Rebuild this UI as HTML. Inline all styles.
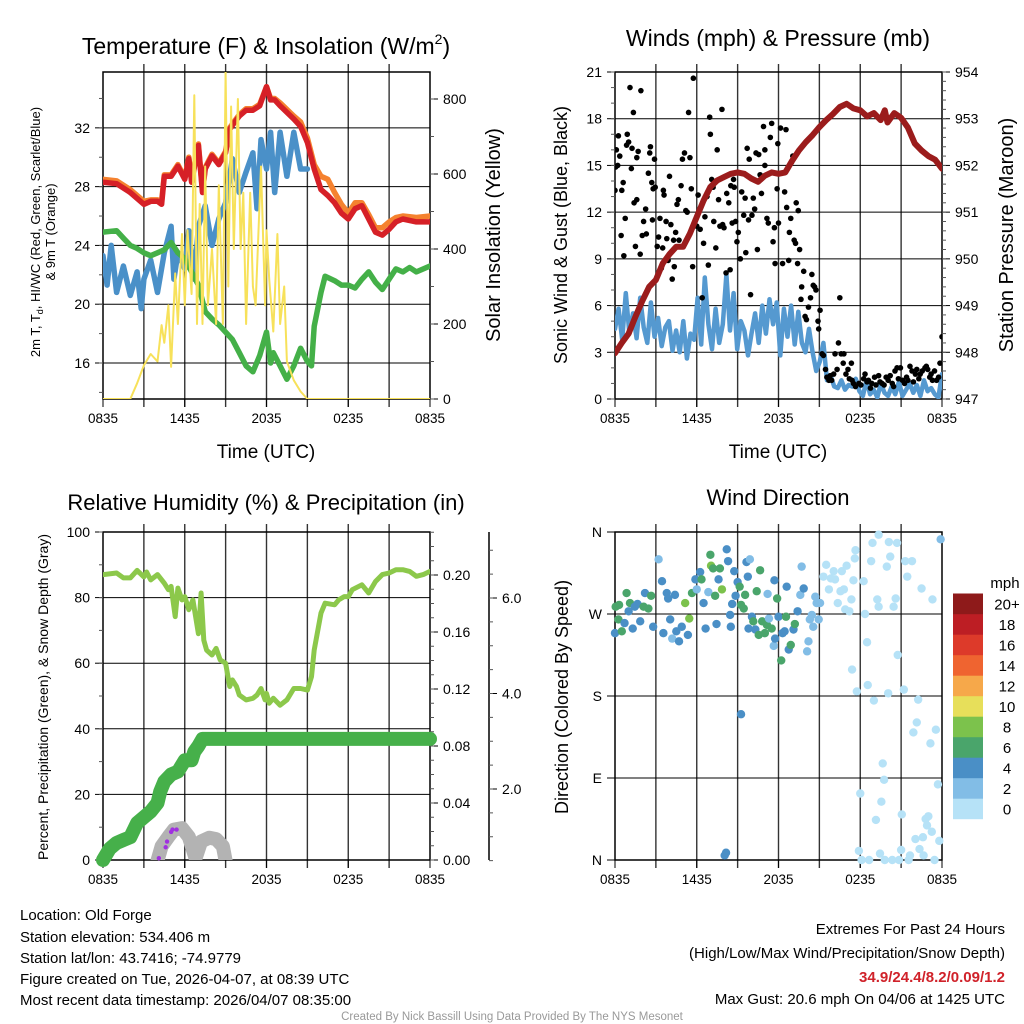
<!DOCTYPE html>
<html><head><meta charset="utf-8"><style>
body{margin:0;background:#fff}
svg{display:block;font-family:"Liberation Sans",sans-serif}
</style></head><body>
<svg id="root" width="1024" height="1024" viewBox="0 0 1024 1024">
<rect width="1024" height="1024" fill="#fff"/>
<g id="g1"></g>
<g id="g2"></g>
<g id="g3"></g>
<g id="g4"></g>
<g font-size="15" fill="#000">
<text x="20" y="920">Location: Old Forge</text>
<text x="20" y="942">Station elevation: 534.406 m</text>
<text x="20" y="963">Station lat/lon: 43.7416; -74.9779</text>
<text x="20" y="984">Figure created on Tue, 2026-04-07, at 08:39 UTC</text>
<text x="20" y="1005">Most recent data timestamp: 2026/04/07 08:35:00</text>
</g>
<g font-size="15" text-anchor="end">
<text x="1005" y="934">Extremes For Past 24 Hours</text>
<text x="1005" y="958">(High/Low/Max Wind/Precipitation/Snow Depth)</text>
<text x="1005" y="982" fill="#d0222a" font-weight="bold">34.9/24.4/8.2/0.09/1.2</text>
<text x="1005" y="1004">Max Gust: 20.6 mph On 04/06 at 1425 UTC</text>
</g>
<text x="512" y="1020" font-size="11.5" fill="#999" text-anchor="middle">Created By Nick Bassill Using Data Provided By The NYS Mesonet</text>
</svg>
<script>
// ---------- data ----------
const timeTicks=["0835","1435","2035","0235","0835"];
const tempHours=[0,1,2,3,3.5,4,4.3,4.5,5,5.5,6,6.3,6.5,7,7.3,7.5,8,8.5,9,9.3,9.6,10,10.5,11,11.5,12,12.3,12.6,13,14,14.5,15,15.5,16,16.5,17,17.5,18,18.5,19,19.5,20,20.5,21,21.5,22,23,24];
const tempRed=[28.3,28.2,27.6,26.8,27,27,26.8,28.7,28.7,29.4,28.5,29.9,28.3,30.8,27.6,29.2,30.1,29.5,30.3,31.9,32.3,32.8,33.2,33.2,33.5,34.8,33.9,33.9,33.5,32.6,32.1,31,29.2,27.8,27.4,26.9,26.2,25.8,26.5,26.7,25.8,24.9,24.7,25.1,25.6,25.8,25.6,25.6];
const tempOrange=[28.5,28.4,27.8,27,27.1,27.1,27,28.8,28.8,29.5,28.6,30,28.4,30.9,27.7,29.3,30.2,29.6,30.4,32,32.4,32.9,33.3,33.3,33.6,34.8,34,34,33.7,32.8,32.4,31.3,29.5,28.7,28.5,27.6,26.8,26.2,26.9,26.9,26.1,25.2,25.2,25.6,25.9,26,25.9,26];
const hiHours=[0,0.3,0.6,1,1.5,2,2.5,2.8,3,3.5,4,4.5,5,5.2,5.5,6,6.3,6.7,7,7.5,8,8.5,9,9.5,10,10.5,11,11.3,11.6,12,12.3,12.6,13,13.5,14,14.5,15];
const hiValues=[23.3,21.3,24,20.8,22.6,20.6,22.2,19.7,21.7,23,20.8,23.5,25.3,21.7,23.5,22.4,25,21.7,25.3,26.7,24,25.8,26.9,29.9,27.6,29,30.3,26.5,31.2,29.2,31.7,27.6,31.7,28.7,31.7,29.2,29.2];
const dewHours=[0,1,1.5,2,2.5,3,3.5,4,4.5,5,5.5,6,6.5,7,7.5,8,8.5,9,9.5,10,10.5,11,11.5,12,12.3,12.5,13,13.5,14,14.5,15,15.3,15.5,16,16.3,17,17.5,18,18.5,19,19.5,20,20.5,21,21.5,22,22.5,23,24];
const dewValues=[24.9,25,24.5,24,23.8,23.5,23.3,23.5,23.7,24.2,23.5,23.1,22.2,21.3,19.5,19,18.6,18.1,17.6,16.7,15.8,15.4,16.5,18.1,16,16.7,15.8,14.9,15.8,17,16.1,15.8,18.5,20.8,21.9,21.6,21.3,21.3,21.1,21.7,22.2,21.5,21,21.7,22.4,22.2,22.5,22.2,22.6];
const solarHours=[0,2,2.5,3,3.5,4,4.3,4.5,4.8,5,5.3,5.5,5.8,6,6.2,6.5,6.7,6.9,7.1,7.3,7.5,7.7,8,8.3,8.5,8.8,9,9.2,9.4,9.6,9.9,10.1,10.3,10.5,10.8,11,11.2,11.6,11.9,12,12.2,12.5,12.8,13,13.3,13.5,14,14.5,15,24];
const solarValues=[0,0,42,90,120,100,197,150,250,86,335,200,440,250,450,280,810,200,520,200,620,250,400,200,570,200,873,300,780,400,800,400,550,200,550,300,250,620,250,450,320,180,440,200,300,100,50,20,0,0];
// panel 2
const presHours=[0,0.5,1,1.5,2,2.5,3,3.5,4,4.5,5,5.5,6,6.5,7,7.5,8,8.5,9,9.5,10,10.5,11,11.5,12,12.5,13,13.5,14,14.5,15,15.5,16,16.5,17,17.5,18,18.5,19,19.5,19.8,20,20.5,21,21.5,22,22.5,23,23.5,24];
const presValues=[947.98,948.2,948.4,948.76,949.1,949.4,949.55,949.9,950.1,950.26,950.26,950.54,950.9,951.25,951.54,951.68,951.75,951.82,951.85,951.82,951.72,951.65,951.78,951.85,951.82,951.85,952.1,952.32,952.5,952.65,952.82,952.97,953.1,953.25,953.32,953.22,953.18,953.05,953.12,952.97,953.18,952.92,953.12,953.02,952.81,952.47,952.32,952.2,952.12,951.93];
const windValues=[4.5,5.8,3.8,6.8,4.2,5.5,3.9,6.5,4.6,3.6,6.2,4.0,5.2,3.4,4.6,5.0,3.1,4.4,3.0,5.0,2.6,4.2,3.8,6.5,3.5,7.8,4.8,3.2,5.8,3.6,4.8,8.0,4.4,6.8,3.2,5.0,4.4,2.8,4.2,5.5,3.6,6.0,4.2,6.4,4.8,6.2,2.8,5.8,4.0,6.0,3.5,5.6,3.6,3.0,4.5,3.0,1.8,2.4,3.6,1.2,1.5,0.8,0.7,1.2,0.6,0.9,0.8,1.3,0.5,0.2,1.2,0.3,0.6,0.1,1.0,0.4,0.2,0.8,0.3,1.1,0.2,0.6,1.0,0.4,0.9,0.2,1.2,0.5,0.7,0.3,0.1,1.6];
const gustHours=[0,0.05,0.1,0.25,0.2,0.35,0.5,0.6,0.45,0.65,0.75,0.85,0.9,1,1.1,1.2,1.25,1.35,1.4,1.5,1.6,1.7,1.6,1.85,1.9,2,2.1,2.25,2.3,2.45,2.55,2.6,2.7,2.8,2.9,2.95,2.75,3.1,3.2,3.3,3.4,3.5,3.55,3.6,3.75,3.8,3.9,4,4.1,4.2,4.3,4.35,4.45,4.55,4.65,4.7,4.85,4.95,5.1,5.2,5.3,5.4,5.5,5.6,5.7,5.75,5.85,5.9,6,6.1,6.25,6.4,6.5,6.6,6.75,6.85,6.95,7,7.1,7.2,7.25,7.4,7.5,7.6,7.7,7.85,7.9,8,8.15,8.2,8.35,8.45,8.5,8.6,8.7,8.75,8.85,8.95,9.05,9.2,9.3,9.45,9.55,9.6,9.7,9.8,9.85,9.95,10.05,10.15,10.25,10.35,10.45,10.55,10.65,10.75,10.9,11,11,11.15,11.25,11.4,11.5,11.6,11.7,11.75,11.9,11.95,12,12.15,12.3,12.45,12.55,12.6,12.75,12.8,12.9,12.95,13.05,13.15,13.25,13.3,13.4,13.45,13.55,13.65,13.7,13.85,13.95,14.05,14.2,14.35,14.45,14.55,14.65,14.75,14.9,14.95,15.05,15.2,15.3,15.45,15.55,15.7,15.8,15.9,16.05,16.15,16.3,16.4,16.5,16.6,16.75,16.8,16.95,17.1,17.2,17.35,17.4,17.5,17.65,17.9,18.05,18.25,18.35,18.5,18.6,18.75,18.85,19.05,19.15,19.35,19.45,19.6,19.75,19.9,20.05,20.2,20.35,20.45,20.55,20.7,20.8,20.95,21.1,21.25,21.4,21.5,21.65,21.8,21.9,22.05,22.15,22.3,22.4,22.55,22.75,22.85,22.95,23.1,23.2,23.3,23.45,23.6,23.75,23.85,24];
const gustValues=[13.4,14.9,16,16.9,15,15.6,13.4,13.9,10.5,9.2,11.6,16.3,17,16.5,20,14.8,16.1,18.4,12.6,9.8,12.8,15.9,15.5,9.3,19.8,10.5,11.4,12.2,10.6,14.5,15.8,16.2,13.9,13.5,15.4,13.6,11.5,9.8,10.4,11.6,8.4,9.7,13.4,13.1,11.4,10.3,8.9,14.3,11.2,7.7,10.2,8.5,10.7,12.5,12.8,10.2,13.7,15.4,15.8,12.1,12,18.4,15.5,13.5,8.5,20.6,11.2,11.5,11.1,13.1,10.9,6.5,10,11.7,13,8.6,18.1,17,14.1,13.6,11.4,9.7,16,12.8,11.1,18.6,11.2,11,8.1,13.2,12.6,8.3,13.7,11.3,14.1,13.6,11.4,10.1,10.7,9,13.3,11.8,12.9,9.4,16.1,11.5,15.4,6.7,11.8,12.9,12.2,15.8,9.6,15.7,14.4,13.2,17.5,15,16,11.6,11.3,16.8,17.7,10.1,11,8.7,13.5,16.4,11.3,17.4,8.7,13.3,17.3,12.3,8.9,10.7,11.6,15.2,15.6,10.2,10,12.6,8.7,12.1,9.6,6.4,7.2,8.2,5.3,5.1,5.9,6.5,8,7.3,7.2,7,5,4.5,5.7,2.9,2.8,1.9,1.4,1.2,1.5,1.2,1.6,2.9,1.9,3.6,6.5,2.9,2.3,2.9,1.6,1.9,1.3,2.3,1.2,1,0.8,1,0.9,1.3,1.6,1.1,1.2,0.7,1,1.4,0.9,1.5,1.1,1,0.9,1.4,1.2,1.5,1,0.8,1.8,2,1.3,2,1.2,1,1.4,1.2,2.1,1.8,1.1,1.6,1.9,1.3,1.6,1.8,2,2.1,1.9,1.4,1.6,1.2,1.8,1.2,1.4,2.3,4];
// panel 3
const rhHours=[0,1,1.5,2,2.5,3,3.2,3.5,4,4.5,4.8,5,5.3,5.5,5.8,6,6.3,6.6,7,7.2,7.4,7.6,8,8.3,8.6,9,9.3,9.5,9.8,10,10.5,11,11.3,11.6,11.9,12,12.2,12.5,13,13.5,14,14.5,15,15.3,15.5,16,16.3,17,17.3,17.7,18,18.3,19,19.5,20,20.5,21,21.5,22,22.5,23,23.5,24];
const rhValues=[87,87.5,86,86,88.3,86.3,87.8,85.4,87,84.4,82.4,83.4,74.2,82.9,79.3,80.3,76.3,79.3,69,81.4,67,64,62.5,64.5,61,60,52.9,54.9,52.9,50.3,48.8,49.3,50.3,52.3,48.8,50.8,47.8,49.3,47.2,48.8,52.3,52.3,51.8,55.9,64,75.3,78.3,77.8,79.3,80.3,80.3,82.4,83.9,81.4,84.9,87,87.5,88.5,88.5,88,86.5,87,88];
const precipHours=[0,0.5,1,1.5,2,2.5,3,3.5,4,4.2,4.5,5,5.5,6,6.5,6.7,7,7.3,7.6,24];
const precipValues=[0,0.008,0.012,0.014,0.016,0.026,0.03,0.034,0.04,0.048,0.055,0.06,0.062,0.07,0.07,0.076,0.08,0.085,0.085,0.085];
const snowHours=[4,4.3,4.8,5.2,5.8,6.3,6.8,7.2,7.8,8.3,8.8,9];
const snowValues=[0.5,0.8,1.0,1.15,1.18,1.0,0.55,0.9,0.98,0.95,0.8,0.5];
const snowfallHours=[4.1,4.6,4.7,5,5.1,5.4];
const snowfallValues=[0.55,0.78,0.9,1.1,1.15,1.15];
// panel 4
const dirHours=[0,0.05,0.3,0.25,0.5,0.7,0.85,1,1.1,1.3,1.45,1.65,1.85,2.1,2.2,2.45,2.65,2.8,3.2,3.45,3.55,3.8,3.9,4.05,4.2,4.4,4.5,4.7,4.9,5.15,5.35,5.45,5.65,5.9,6,6.25,6.35,6.5,6.65,6.85,7,7.05,7.2,7.35,7.45,7.6,7.7,7.85,8.2,8.3,8.45,8.5,8.6,8.75,8.85,9,9.15,9.25,9.25,9.45,9.55,9.65,9.75,9.8,9.9,10.05,10.15,10.3,10.4,10.55,10.65,10.8,11,11.15,11.2,11.3,11.5,11.65,11.7,11.75,11.9,12,12.2,12.3,12.45,12.55,12.6,12.75,12.9,13.1,13.2,13.4,13.6,13.7,13.85,14.1,14.2,14.3,14.45,14.55,14.7,14.8,14.95,15.05,8.05,8.15,
15.3,15.5,15.7,15.85,16.05,16.15,16.35,16.55,16.65,16.8,16.9,17,17.2,17.35,17.5,17.65,17.6,17.75,17.9,18,18.1,18.25,18.35,18.5,18.55,18.65,18.8,18.9,19,19.15,19.25,19.35,19.35,19.45,19.55,19.65,19.75,19.8,19.95,20.05,20.1,20.2,20.35,20.45,20.6,20.7,20.75,20.85,21,21.05,21.2,21.3,21.45,21.55,21.65,21.8,21.9,22.05,22.15,22.25,22.35,22.5,22.6,22.65,22.8,22.9,23,23.15,23.25,23.3,23.45,23.55,23.7,23.8,23.9,17.4];
const dirDegrees=[249,278,280,264,251,260,293,273,282,254,278,281,262,278,293,276,290,256,330,306,249,293,287,264,243,291,251,240,256,282,247,265,293,308,297,316,308,282,254,294,335,323,320,290,259,308,320,297,341,328,269,256,281,317,290,305,300,280,160,276,291,327,311,254,330,267,262,253,295,247,318,262,249,258,292,265,254,235,307,243,287,267,219,249,251,267,300,231,236,253,259,273,291,322,298,229,240,264,269,256,289,282,264,282,5,8,
311,324,297,309,317,308,282,295,317,297,275,323,273,286,307,340,331,185,10,73,0,306,270,239,192,0,328,348,175,44,286,357,278,7,64,106,88,0,322,183,349,333,0,278,287,348,225,0,11,50,187,328,311,0,5,328,140,23,151,176,12,298,25,5,45,38,48,128,31,286,0,143,83,21,352,209];
const dirSpeeds=[5,7,7,7,7,5,7,5,7,5,5,5,5,7,5,7,7,5,3,5,5,5,5,5,3,5,5,5,5,9,5,9,7,5,3,5,7,5,5,3,7,9,7,7,5,5,7,9,5,5,5,5,5,5,5,5,7,7,5,7,7,5,5,5,3,5,7,5,7,7,7,7,7,7,3,3,7,3,5,5,7,5,7,5,5,7,5,5,7,5,7,5,3,3,5,3,3,3,3,3,3,3,3,3,5,5,
1,1,1,1,1,1,1,1,1,1,1,1,1,1,1,1,1,1,1,1,1,1,1,1,1,1,1,1,1,1,1,1,1,1,1,1,1,1,1,1,1,1,1,1,1,1,1,1,1,1,1,1,1,1,1,1,1,1,1,1,1,1,1,1,1,1,1,1,1,1,1,1,1,1,3,1];
const speedColors=["#b6e2f7","#82bde6","#4a8fc6","#4aa56b","#7cc24c","#e7df5a","#f6a84a","#ef6430","#dd3a2a","#bd1e24","#8e1a1a"];
const speedLabels=["0","2","4","6","8","10","12","14","16","18","20+"];
const leftTicks1=[16,20,24,28,32], rightTicks1=[0,200,400,600,800];
const leftTicks2=[0,3,6,9,12,15,18,21], rightTicks2=[947,948,949,950,951,952,953,954];
const leftTicks3=[0,20,40,60,80,100], rightTicks3=[0,0.04,0.08,0.12,0.16,0.2], snowTicks=[2,4,6];
const dirTicks=[0,90,180,270,360], dirLabels=["N","E","S","W","N"];

// ---------- helpers ----------
const NS="http://www.w3.org/2000/svg";
function mk(parent,tag,attrs){const e=document.createElementNS(NS,tag);for(const k in attrs)e.setAttribute(k,attrs[k]);parent.appendChild(e);return e;}
function txt(parent,x,y,s,size,anchor,extra){const t=mk(parent,"text",Object.assign({x:x,y:y,"font-size":size,"text-anchor":anchor||"middle"},extra||{}));t.textContent=s;return t;}
function path(xs,ys,xf,yf){return xs.map((h,i)=>(i?"L":"M")+xf(h).toFixed(1)+" "+yf(ys[i]).toFixed(1)).join("");}
function frame(g,X0,Y0,Y1,id){
  for(let h=3;h<24;h+=3){const l=mk(g,"line",{x1:X0+h*327/24,x2:X0+h*327/24,y1:Y0-8,y2:Y1+8,stroke:"#333","stroke-width":1.4});
  
  }
  const r=mk(g,"rect",{x:X0,y:Y0,width:327,height:Y1-Y0,fill:"none",stroke:"#000","stroke-width":1.5});
  
  
  timeTicks.forEach((s,i)=>{const x=X0+i*6*327/24;mk(g,"line",{x1:x,x2:x,y1:Y1,y2:Y1+8,stroke:"#000"});
    const t=txt(g,x,Y1+24,s,13.5);
    
    });
  const c=mk(g,"clipPath",{id:id});mk(c,"rect",{x:X0,y:Y0,width:327,height:Y1-Y0});
}
function yAxis(g,ticks,labels,yf,x,side,grid,X0,fmt,minorStep,lo,hi){
  ticks.forEach((v,i)=>{const y=yf(v);
    if(grid){const gl=mk(g,"line",{x1:X0,x2:X0+327,y1:y,y2:y,stroke:"#000","stroke-width":1});
      
      }
    mk(g,"line",{x1:x,x2:x+side*8,y1:y,y2:y,stroke:"#000"});
    const t=txt(g,x+side*13,y+5,labels?labels[i]:fmt(v),14,side<0?"end":"start");
    
    });
  if(minorStep){for(let v=lo;v<=hi+1e-9;v+=minorStep){const y=yf(v);mk(g,"line",{x1:x,x2:x+side*4,y1:y,y2:y,stroke:"#555"});}}
}
function rot(g,x,y,s,size){const t=mk(g,"text",{transform:"translate("+x+","+y+") rotate(-90)","font-size":size,"text-anchor":"middle"});t.textContent=s;return t;}
function line(g,d,color,w,clip,name){const p=mk(g,"path",{d:d,fill:"none",stroke:color,"stroke-width":w,"stroke-linejoin":"round","stroke-linecap":"round","clip-path":"url(#"+clip+")"});
  
  return p;}

// ---------- panel 1 ----------
const g1=document.getElementById("g1");
const x1=h=>103+h*327/24, yT=t=>399-(t-13.55)*327/22.25, yS=w=>399-w*300/800;
frame(g1,103,72,399,"c1");
yAxis(g1,leftTicks1,null,yT,103,-1,true,103,v=>v,2,14,34);
yAxis(g1,rightTicks1,null,yS,430,1,false,103,v=>v,100,0,800);
line(g1,path(tempHours,tempOrange,x1,yT),"#f5822f",5.5,"c1","orange-9m-temp-line");
line(g1,path(tempHours,tempRed,x1,yT),"#d62027",5.5,"c1","red-2m-temp-line");
line(g1,path(hiHours,hiValues,x1,yT),"#4a90c8",5.5,"c1","blue-heat-index-line");
line(g1,path(dewHours,dewValues,x1,yT),"#44b048",5.5,"c1","green-dewpoint-line");
line(g1,path(solarHours,solarValues,x1,yS),"#f7e15a",2,"c1","yellow-insolation-line");
txt(g1,266,54,"",23).innerHTML='Temperature (F) &amp; Insolation (W/m<tspan font-size="14" dy="-10">2</tspan><tspan dy="10">)</tspan>';
txt(g1,266,458,"Time (UTC)",19);
const yl=mk(g1,"text",{transform:"translate(40,232) rotate(-90)","font-size":13,"text-anchor":"middle"});


yl.innerHTML='<tspan x="0" dy="0">2m T, T<tspan font-size="9" dy="3">d</tspan><tspan dy="-3">, HI/WC (Red, Green, Scarlet/Blue)</tspan></tspan><tspan x="0" dy="15">&amp; 9m T (Orange)</tspan>';
rot(g1,500,235,"Solar Insolation (Yellow)",20);

// ---------- panel 2 ----------
const g2=document.getElementById("g2");
const x2=h=>615+h*327/24, yW=m=>399-m*327/21, yP=p=>399-(p-947)*327/7;
frame(g2,615,72,399,"c2");
yAxis(g2,leftTicks2,null,yW,615,-1,true,615,v=>v,1,0,21);
yAxis(g2,rightTicks2,null,yP,942,1,false,615,v=>v,0.2,947,954);
line(g2,path(windValues.map((v,i)=>i*24/(windValues.length-1)),windValues,x2,yW),"#5599d0",4.5,"c2","blue-sonic-wind-line");
const gg=mk(g2,"g",{"clip-path":"url(#c2)"});
gustHours.forEach((h,i)=>{const c=mk(gg,"circle",{cx:x2(h),cy:yW(gustValues[i]),r:2.8,fill:"#000"});
  
  });
line(g2,path(presHours,presValues,x2,yP),"#9b1c1c",6,"c2","maroon-pressure-line");
txt(g2,778,46,"Winds (mph) & Pressure (mb)",23);
txt(g2,778,458,"Time (UTC)",19);
rot(g2,567,235,"Sonic Wind & Gust (Blue, Black)",18);
rot(g2,1013,235,"Station Pressure (Maroon)",20);

// ---------- panel 3 ----------
const g3=document.getElementById("g3");
const yR=v=>860-v*328/100, yPr=v=>860-v*1425, ySn=d=>884.5-d*47.75;
frame(g3,103,532,860,"c3");
yAxis(g3,leftTicks3,null,yR,103,-1,true,103,v=>v,10,0,100);
yAxis(g3,rightTicks3,null,yPr,430,1,false,103,v=>v.toFixed(2),0.01,0,0.23);
mk(g3,"line",{x1:489,x2:489,y1:532,y2:860,stroke:"#000","stroke-width":1.5});
yAxis(g3,snowTicks,null,ySn,489,1,false,103,v=>v.toFixed(1),0.5,0.5,7);
line(g3,path(snowHours,snowValues,x1,ySn),"#b3b3b3",14,"c3","gray-snow-depth-line");
const sg=mk(g3,"g",{});
snowfallHours.forEach((h,i)=>{const c=mk(sg,"circle",{cx:x1(h),cy:ySn(snowfallValues[i]),r:2.2,fill:"#a030e0"});
  
  });
line(g3,path(rhHours,rhValues,x1,yR),"#8cc84b",5,"c3","rh-line");
mk(g3,"path",{d:path(precipHours,precipValues,x1,yPr),fill:"none",stroke:"#46b04a","stroke-width":14,"stroke-linejoin":"round","stroke-linecap":"round"});
txt(g3,266,510,"Relative Humidity (%) & Precipitation (in)",22);
rot(g3,48,697,"Percent, Precipitation (Green), & Snow Depth (Gray)",14);

// ---------- panel 4 ----------
const g4=document.getElementById("g4");
const yD=d=>860-d*328/360;
frame(g4,615,532,860,"c4");
yAxis(g4,dirTicks,dirLabels,yD,615,-1,true,615,null,0,0,0);
const dg=mk(g4,"g",{});
dirHours.forEach((h,i)=>{const b=Math.min(10,Math.floor(dirSpeeds[i]/2));
  const c=mk(dg,"circle",{cx:x2(h),cy:yD(dirDegrees[i]),r:4.2,fill:speedColors[b]});
  
  });
txt(g4,778,505,"Wind Direction",22);
rot(g4,568,697,"Direction (Colored By Speed)",18);
const lg=mk(g4,"g",{});


txt(lg,1005,588,"mph",15);
speedColors.forEach((c,i)=>{const y=819-(i+1)*20.5;
  const r=mk(lg,"rect",{x:953,y:y,width:30,height:20.7,fill:c});
  
  
  txt(lg,1007,y+16,speedLabels[i],15);});
</script>
</body></html>
